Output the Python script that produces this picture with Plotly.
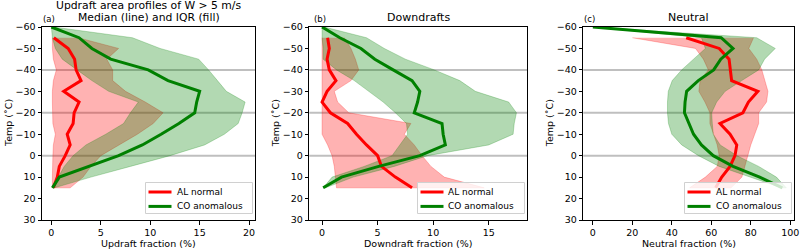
import plotly.graph_objects as go

# ---------------- data ----------------
temps_al = [-55, -50, -45, -40, -35, -30, -25, -20, -15, -10, -5, 0, 5, 10, 15]
temps_co = [-60, -55, -50, -45, -40, -35, -30, -25, -20, -15, -10, -5, 0, 5, 10, 15]

# (a) updraft fraction (%)
up_al_med = [0.25, 1.7, 2.35, 2.5, 3.0, 1.25, 2.8, 2.3, 2.2, 1.6, 1.9, 1.4, 0.8, 0.6, 0.2]
up_al_q1 = [0.1, 0.1, 0.2, 0.5, 0.2, 0.1, 0.1, 0.1, 0.15, 0.4, 0.2, 0.15, 0.1, 0.1, 0.1]
up_al_q3 = [2.7, 6.8, 5.6, 6.2, 6.2, 7.5, 9.5, 11.3, 10.3, 8.7, 6.8, 5.0, 4.0, 3.2, 1.9]
up_co_med = [0.0, 2.8, 4.1, 6.0, 9.8, 11.8, 15.0, 14.7, 14.5, 12.9, 11.1, 9.2, 6.8, 3.9, 0.8, 0.1]
up_co_q1 = [0.0, 0.1, 0.4, 1.1, 2.6, 4.1, 5.8, 8.8, 8.0, 7.3, 5.5, 3.5, 2.2, 1.3, 0.7, 0.2]
up_co_q3 = [0.2, 8.2, 11.0, 14.9, 15.9, 16.8, 17.7, 19.6, 19.3, 18.9, 17.5, 15.5, 12.0, 8.0, 4.0, 0.3]

# (b) downdraft fraction (%)
dn_al_med = [0.5, 0.65, 0.45, 0.65, 1.25, 0.45, 0.0, 0.75, 2.3, 3.1, 4.0, 5.0, 5.35, 6.6, 8.1]
dn_al_q1 = [0.0, 0.0, 0.0, 0.0, 0.0, 0.0, 0.0, 0.0, 0.0, 0.0, 0.5, 0.9, 1.1, 1.2, 1.3]
dn_al_q3 = [2.0, 2.6, 3.0, 3.3, 2.6, 1.1, 1.4, 2.4, 8.0, 7.4, 8.3, 9.0, 9.8, 11.0, 14.6]
dn_co_med = [0.0, 1.6, 3.5, 4.75, 6.4, 8.1, 8.8, 8.6, 8.3, 10.8, 10.9, 11.1, 8.8, 5.1, 1.75, 0.1]
dn_co_q1 = [0.0, 0.0, 0.1, 0.1, 1.3, 2.9, 4.2, 5.5, 6.6, 7.6, 7.7, 7.0, 6.3, 3.8, 0.9, 0.1]
dn_co_q3 = [0.2, 4.0, 5.6, 7.5, 10.1, 12.4, 13.8, 16.8, 17.5, 17.3, 17.2, 15.0, 9.5, 6.5, 2.8, 0.3]

# (c) neutral fraction (%)
ne_al_med = [47.3, 64.0, 69.0, 69.5, 70.3, 83.6, 78.8, 76.0, 64.4, 69.5, 72.9, 72.0, 69.5, 65.3, 62.2]
ne_al_q1 = [20.0, 52.0, 56.0, 58.5, 54.3, 53.7, 56.8, 59.3, 59.3, 61.0, 63.0, 64.0, 63.0, 57.0, 49.0]
ne_al_q3 = [81.4, 79.0, 83.0, 85.6, 87.3, 88.7, 88.0, 84.0, 84.0, 82.0, 80.0, 78.5, 77.0, 75.5, 70.0]
ne_co_med = [0.0, 65.0, 71.0, 64.8, 61.2, 53.4, 47.5, 46.7, 46.4, 48.8, 51.0, 55.0, 61.0, 71.0, 84.5, 96.0]
ne_co_q1 = [0.0, 55.0, 57.0, 51.0, 45.0, 40.2, 38.2, 37.8, 37.8, 38.3, 40.0, 45.0, 53.5, 64.0, 80.0, 95.5]
ne_co_q3 = [0.0, 83.0, 92.4, 87.0, 84.0, 75.4, 67.0, 62.7, 60.2, 60.5, 61.0, 64.5, 73.0, 84.0, 93.0, 98.0]

series_names = ["AL normal", "CO anomalous"]
x_titles = ["Updraft fraction (%)", "Downdraft fraction (%)", "Neutral fraction (%)"]
panel_titles = ["Downdrafts", "Neutral"]
panel_tags = ["(a)", "(b)", "(c)"]
y_ticks = [-60, -50, -40, -30, -20, -10, 0, 10, 20, 30]
ref_lines = [-40, -20, 0]

# ---------------- layout geometry (pixels) ----------------
W, H = 800, 251
panels_px = [(42, 255), (309.3, 527), (583.3, 794)]
top_px, bot_px = 27, 220
x_ranges = [[-0.95, 20.6], [-1.15, 18.45], [-4.85, 101.9]]
x_dticks = [5, 5, 20]

RED = "#ff0000"
GREEN = "#008000"
RED_F = "rgba(255,0,0,0.3)"
GREEN_F = "rgba(0,128,0,0.3)"
FONT = "DejaVu Sans"
series_colors = [RED, GREEN]


def px(xp):
    return xp / W


def py(yp):
    return 1 - yp / H


fig = go.Figure()

data = [
    (up_al_med, up_al_q1, up_al_q3, up_co_med, up_co_q1, up_co_q3),
    (dn_al_med, dn_al_q1, dn_al_q3, dn_co_med, dn_co_q1, dn_co_q3),
    (ne_al_med, ne_al_q1, ne_al_q3, ne_co_med, ne_co_q1, ne_co_q3),
]

for i, (am, a1, a3, cm, c1, c3) in enumerate(data):
    xa = "x" if i == 0 else f"x{i+1}"
    ya = "y" if i == 0 else f"y{i+1}"
    fig.add_trace(go.Scatter(x=a1 + a3[::-1], y=temps_al + temps_al[::-1], fill="toself",
                             fillcolor=RED_F, line=dict(color=RED_F, width=0.8), mode="lines",
                             hoverinfo="skip", showlegend=False, xaxis=xa, yaxis=ya))
    fig.add_trace(go.Scatter(x=c1 + c3[::-1], y=temps_co + temps_co[::-1], fill="toself",
                             fillcolor=GREEN_F, line=dict(color=GREEN_F, width=0.8), mode="lines",
                             hoverinfo="skip", showlegend=False, xaxis=xa, yaxis=ya))
    fig.add_trace(go.Scatter(x=am, y=temps_al, mode="lines", line=dict(color=RED, width=3),
                             name=series_names[0], showlegend=False, xaxis=xa, yaxis=ya))
    fig.add_trace(go.Scatter(x=cm, y=temps_co, mode="lines", line=dict(color=GREEN, width=3),
                             name=series_names[1], showlegend=False, xaxis=xa, yaxis=ya))

axis_common = dict(showline=True, mirror=True, linecolor="black", linewidth=1,
                   ticks="outside", ticklen=3.5, tickwidth=1, tickcolor="black",
                   showgrid=False, zeroline=False, automargin=False,
                   tickfont=dict(family=FONT, size=9.5, color="black"))

layout = dict(template="none", width=W, height=H, margin=dict(l=0, r=0, t=0, b=0, pad=0),
              plot_bgcolor="white", paper_bgcolor="white", showlegend=False,
              font=dict(family=FONT, color="black"))
shapes = []
annotations = []

ydom = [1 - bot_px / H, 1 - top_px / H]
for i, (l, r) in enumerate(panels_px):
    xk = "xaxis" if i == 0 else f"xaxis{i+1}"
    yk = "yaxis" if i == 0 else f"yaxis{i+1}"
    yref = "y" if i == 0 else f"y{i+1}"
    xa = "x" if i == 0 else f"x{i+1}"
    layout[xk] = dict(domain=[l / W, r / W], range=x_ranges[i], dtick=x_dticks[i], tick0=0,
                      anchor=yref, **axis_common)
    layout[yk] = dict(domain=ydom, range=[30, -60], tickvals=y_ticks, anchor=xa, **axis_common)
    for v in ref_lines:
        shapes.append(dict(type="line", xref=f"{xa} domain", x0=0, x1=1, yref=yref, y0=v, y1=v,
                           line=dict(color="rgba(128,128,128,0.5)", width=2), layer="below"))

    # legend box (drawn like matplotlib's lower-right legend)
    bx1 = r - 2.5
    bx0 = bx1 - 107
    by1 = bot_px - 6.5
    by0 = by1 - 31
    shapes.append(dict(type="rect", xref="paper", yref="paper", x0=px(bx0), x1=px(bx1),
                       y0=py(by1), y1=py(by0), fillcolor="rgba(255,255,255,0.8)",
                       line=dict(color="#d0d0d0", width=1), layer="above"))
    for k, name in enumerate(series_names):
        ly = by0 + 9.5 + k * 14.4
        shapes.append(dict(type="line", xref="paper", yref="paper", x0=px(bx0 + 3),
                           x1=px(bx0 + 26), y0=py(ly), y1=py(ly),
                           line=dict(color=series_colors[k], width=3), layer="above"))
        annotations.append(dict(text=name, xref="paper", yref="paper", x=px(bx0 + 30),
                                y=py(ly), showarrow=False, xanchor="left", yanchor="middle",
                                borderpad=0, font=dict(family=FONT, size=9)))

    annotations.append(dict(text=x_titles[i], xref="paper", yref="paper", x=px((l + r) / 2),
                            y=py(243.5), showarrow=False, xanchor="center", yanchor="middle",
                            borderpad=0, font=dict(family=FONT, size=9.5)))
    annotations.append(dict(text="Temp (˚C)", xref="paper", yref="paper", x=px(l - 34),
                            y=py(123), showarrow=False, textangle=-90, xanchor="center",
                            yanchor="middle", borderpad=0, font=dict(family=FONT, size=9.5)))
    annotations.append(dict(text=panel_tags[i], xref="paper", yref="paper",
                            x=px(l + (0 if i != 1 else 4)), y=py(18.5), showarrow=False,
                            xanchor="left", yanchor="middle", borderpad=0,
                            font=dict(family=FONT, size=8.5)))

annotations.append(dict(text="Updraft area profiles of W > 5 m/s", xref="paper", yref="paper",
                        x=px(148.5), y=py(5.3), showarrow=False, xanchor="center",
                        yanchor="middle", borderpad=0, font=dict(family=FONT, size=10.8)))
annotations.append(dict(text="Median (line) and IQR (fill)", xref="paper", yref="paper",
                        x=px(148.5), y=py(17.8), showarrow=False, xanchor="center",
                        yanchor="middle", borderpad=0, font=dict(family=FONT, size=10.8)))
for j, t in enumerate(panel_titles):
    l, r = panels_px[j + 1]
    annotations.append(dict(text=t, xref="paper", yref="paper", x=px((l + r) / 2),
                            y=py(17.8), showarrow=False, xanchor="center",
                            yanchor="middle", borderpad=0, font=dict(family=FONT, size=11)))

layout["shapes"] = shapes
layout["annotations"] = annotations
fig.update_layout(**layout)

fig.write_html("out.html", config={"displayModeBar": False},
               post_script="document.body.style.margin='0px';document.body.style.overflow='hidden';")
